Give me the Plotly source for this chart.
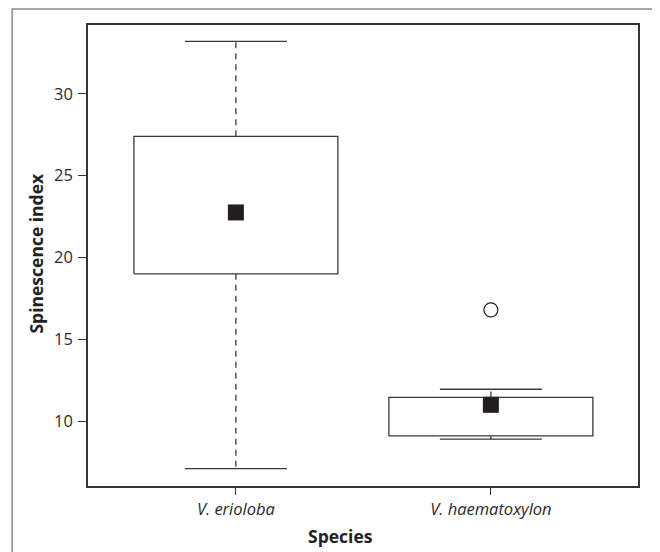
import plotly.graph_objects as go

species = ["<i>V. erioloba</i>", "<i>V. haematoxylon</i>"]
q1 = [19.0, 9.1]
q3 = [27.4, 11.45]
lower = [7.1, 8.9]
upper = [33.2, 11.95]
center = [22.75, 11.0]
outlier_x = [1]
outlier_y = [16.8]

yticks = [10, 15, 20, 25, 30]

BOX_HALF = 0.4
CAP_HALF = 0.2
LINE = "#3a3a3a"

fig = go.Figure()
for i in range(len(species)):
    # box
    fig.add_trace(go.Scatter(
        x=[i - BOX_HALF, i + BOX_HALF, i + BOX_HALF, i - BOX_HALF, i - BOX_HALF],
        y=[q1[i], q1[i], q3[i], q3[i], q1[i]],
        mode="lines", line=dict(color=LINE, width=1.3), hoverinfo="skip"))
    # whiskers (dashed)
    for a, b in [(q3[i], upper[i]), (q1[i], lower[i])]:
        fig.add_trace(go.Scatter(x=[i, i], y=[a, b], mode="lines",
                                 line=dict(color=LINE, width=1.3, dash="6px,5px"),
                                 hoverinfo="skip"))
    # caps
    for v in (upper[i], lower[i]):
        fig.add_trace(go.Scatter(x=[i - CAP_HALF, i + CAP_HALF], y=[v, v], mode="lines",
                                 line=dict(color=LINE, width=1.3), hoverinfo="skip"))

fig.add_trace(go.Scatter(x=list(range(len(species))), y=center, mode="markers",
                         marker=dict(symbol="square", size=16, color="#231f20",
                                     line=dict(width=0))))
fig.add_trace(go.Scatter(x=outlier_x, y=outlier_y, mode="markers",
                         marker=dict(symbol="circle-open", size=14, color="#231f20",
                                     line=dict(width=1.2))))

# outer frame
fig.add_shape(type="rect", xref="paper", yref="paper",
              x0=-0.138, x1=1.03, y0=-0.3, y1=1.0347,
              line=dict(color="#8a8a8a", width=1.5), layer="below")

font = "Open Sans, Noto Sans, sans-serif"
fig.add_annotation(text="<b>Species</b>", xref="paper", yref="paper",
                   x=0.4596, y=-0.1085, xanchor="center", yanchor="middle",
                   showarrow=False, font=dict(size=17.5, color="#222", family=font))
fig.add_annotation(text="<b>Spinescence index</b>", xref="paper", yref="paper",
                   x=-0.0954, y=0.5054, xanchor="center", yanchor="middle", textangle=-90,
                   showarrow=False, font=dict(size=17.5, color="#222", family=font))

fig.update_layout(
    width=652, height=544,
    margin=dict(l=80, r=21.5, t=17, b=66),
    paper_bgcolor="white", plot_bgcolor="white",
    showlegend=False,
    font=dict(family=font, color="#2b2b2b", size=16),
    xaxis=dict(range=[-0.58, 1.577], tickvals=[0, 1], ticktext=species,
               ticks="outside", ticklen=7, tickcolor="#333", tickwidth=1.2,
               showline=True, mirror=True, linecolor="#333", linewidth=1.5,
               showgrid=False, zeroline=False,
               tickfont=dict(size=16.5, color="#2b2b2b")),
    yaxis=dict(range=[6.04, 34.2], tickvals=yticks,
               ticks="outside", ticklen=8, tickcolor="#333", tickwidth=1.2,
               showline=True, mirror=True, linecolor="#333", linewidth=1.5,
               showgrid=False, zeroline=False, ticklabelstandoff=2,
               tickfont=dict(size=16.5, color="#2b2b2b")),
)

fig.write_html("out.html")
